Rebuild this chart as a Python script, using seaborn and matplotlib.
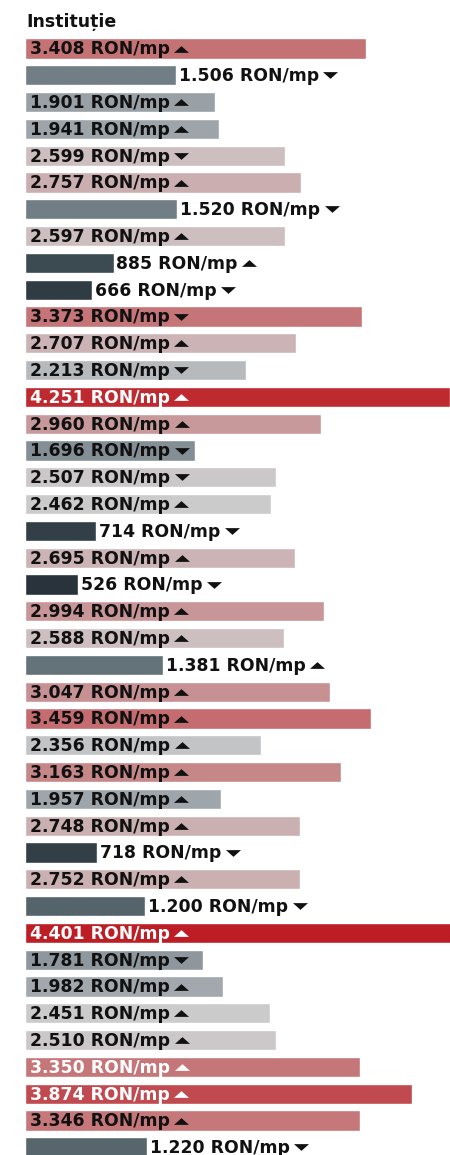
import matplotlib
matplotlib.use("Agg")
import matplotlib.pyplot as plt
import numpy as np
import pandas as pd
import seaborn as sns
from matplotlib.colors import LinearSegmentedColormap
from matplotlib.path import Path

# Price per square metre for each institution, in display order (top to bottom)
values = [3408, 1506, 1901, 1941, 2599, 2757, 1520, 2597, 885, 666,
          3373, 2707, 2213, 4251, 2960, 1696, 2507, 2462, 714, 2695,
          526, 2994, 2588, 1381, 3047, 3459, 2356, 3163, 1957, 2748,
          718, 2752, 1200, 4401, 1781, 1982, 2451, 2510, 3350, 3874,
          3346, 1220]
# Direction of change versus the previous period: +1 rising, -1 falling
trend = [+1, -1, +1, +1, -1, +1, -1, +1, +1, -1,
         -1, +1, -1, +1, +1, -1, -1, +1, -1, +1,
         -1, +1, +1, +1, +1, +1, +1, +1, +1, +1,
         -1, +1, -1, +1, -1, +1, +1, +1, +1, +1,
         +1, -1]
# Rows whose value label is printed in white
white_rows = [13, 33, 38, 39]
unit = "RON/mp"
title = "Instituție"

sns.set_theme(style="white")
plt.rcParams["font.family"] = ["DejaVu Sans"]

W, H, DPI = 450, 1155, 100
n = len(values)

# Diverging colour scale: dark slate for low prices, grey in the middle, red for high
lo, hi = 500, 4400
stops = [(500, "#28323a"), (900, "#3d4b53"), (1400, "#66747b"), (1900, "#9aa2a7"),
         (2450, "#cccccc"), (2600, "#cdbfc0"), (3050, "#c79092"), (3460, "#c46d70"),
         (3875, "#c04a4f"), (4400, "#bd1e25")]
cmap = LinearSegmentedColormap.from_list(
    "price", [((v - lo) / (hi - lo), c) for v, c in stops])
colors = [cmap(np.clip((v - lo) / (hi - lo), 0, 1)) for v in values]

fig = plt.figure(figsize=(W / DPI, H / DPI), dpi=DPI)
fig.patch.set_facecolor("white")
pitch = 26.8
top_px = 48.5 - pitch / 2
bot_px = 48.5 + (n - 1) * pitch + pitch / 2
ax = fig.add_axes([25 / W, (H - bot_px) / H, (W - 25) / W, (bot_px - top_px) / H])

df = pd.DataFrame({"row": [str(i) for i in range(n)], "value": values})
sns.barplot(data=df, x="value", y="row", hue="row", palette=colors, legend=False,
            width=0.75, saturation=1, orient="h", ax=ax)
ax.set_xlim(0, 4250)
ax.set_ylim(n - 0.5, -0.5)
ax.axis("off")

fig.text(26 / W, 1 - 27 / H, title, fontsize=12.5, fontweight="bold",
         color="#111111", va="baseline", ha="left")

fig.canvas.draw()
renderer = fig.canvas.get_renderer()

tri_up = Path([(-1, -0.45), (1, -0.45), (0, 0.45), (-1, -0.45)],
              [Path.MOVETO, Path.LINETO, Path.LINETO, Path.CLOSEPOLY])
tri_down = Path([(-1, 0.45), (1, 0.45), (0, -0.45), (-1, 0.45)],
                [Path.MOVETO, Path.LINETO, Path.LINETO, Path.CLOSEPOLY])

px_per_unit = (W - 25) / 4250
tri_w = 15
gap = 4
label_size = 12.4

for i, v in enumerate(values):
    txt = f"{v:,}".replace(",", ".") + " " + unit
    # measure the label to decide whether it fits inside the bar
    probe = ax.annotate(txt, xy=(0, i), fontsize=label_size, fontweight="bold")
    w = probe.get_window_extent(renderer).width
    probe.remove()
    bar_px = v * px_per_unit
    inside = 5 + w + gap + tri_w + 4 <= bar_px
    color = "white" if i in white_rows else "#111111"
    if inside:
        t = ax.annotate(txt, xy=(0, i), xytext=(5, -6), textcoords="offset pixels",
                        fontsize=label_size, fontweight="bold", color=color,
                        va="baseline", ha="left", annotation_clip=False)
    else:
        t = ax.annotate(txt, xy=(v, i), xytext=(3, -6), textcoords="offset pixels",
                        fontsize=label_size, fontweight="bold", color="#111111",
                        va="baseline", ha="left", annotation_clip=False)
        color = "#111111"
    bb = t.get_window_extent(renderer)
    y_disp = ax.transData.transform((0, i))[1]
    xd, _ = ax.transData.inverted().transform((bb.x1 + gap + tri_w / 2, y_disp))
    ax.plot([xd], [i], linestyle="none",
            marker=tri_up if trend[i] > 0 else tri_down,
            markersize=tri_w * 72 / DPI, color=color, markeredgewidth=0,
            clip_on=False)

fig.savefig("out.png", dpi=DPI, facecolor="white")
